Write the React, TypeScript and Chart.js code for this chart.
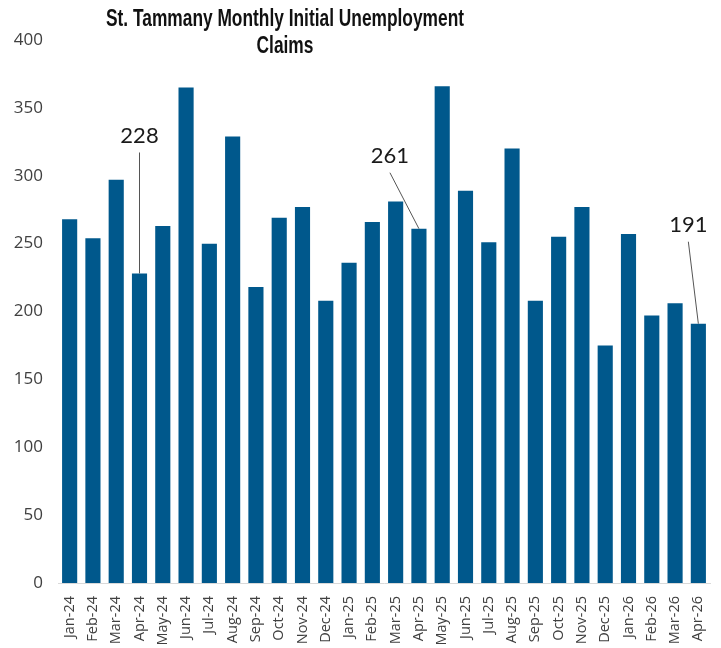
import React, { useEffect, useRef } from "react";
import { Chart, registerables } from "chart.js";

Chart.register(...registerables);

const months: string[] = [
  "Jan-24", "Feb-24", "Mar-24", "Apr-24", "May-24", "Jun-24", "Jul-24", "Aug-24",
  "Sep-24", "Oct-24", "Nov-24", "Dec-24", "Jan-25", "Feb-25", "Mar-25", "Apr-25",
  "May-25", "Jun-25", "Jul-25", "Aug-25", "Sep-25", "Oct-25", "Nov-25", "Dec-25",
  "Jan-26", "Feb-26", "Mar-26", "Apr-26",
];

const claims: number[] = [
  268, 254, 297, 228, 263, 365, 250, 329,
  218, 269, 277, 208, 236, 266, 281, 261,
  366, 289, 251, 320, 208, 255, 277, 175,
  257, 197, 206, 191,
];

const yTicks: number[] = [0, 50, 100, 150, 200, 250, 300, 350, 400];

const titleLines: string[] = ["St. Tammany Monthly Initial Unemployment", "Claims"];

// Callouts: month index, label offset (px) from bar top
const calloutIndex: number[] = [3, 15, 27];
const calloutDx: number[] = [0, -29, -10];
const calloutDy: number[] = [-138, -73, -99];

const BAR_COLOR = "#00588c";

const titlePlugin = {
  id: "customTitle",
  afterDraw(chart: any) {
    const ctx = chart.ctx;
    ctx.save();
    ctx.fillStyle = "#111111";
    ctx.font = "bold 23px 'Liberation Sans Narrow', 'Arial Narrow', 'Liberation Sans', sans-serif";
    ctx.textAlign = "center";
    ctx.textBaseline = "middle";
    const w0 = ctx.measureText(titleLines[0]).width;
    const sx = Math.min(1, 358 / w0);
    ctx.translate(285, 0);
    ctx.scale(sx, 1);
    ctx.fillText(titleLines[0], 0, 20);
    ctx.fillText(titleLines[1], 0, 47);
    ctx.restore();
  },
};

const calloutPlugin = {
  id: "callouts",
  afterDatasetsDraw(chart: any) {
    const ctx = chart.ctx;
    const xs = chart.scales.x;
    const ys = chart.scales.y;
    ctx.save();
    calloutIndex.forEach((idx, k) => {
      const v = claims[idx];
      const bx = xs.getPixelForValue(idx);
      const by = ys.getPixelForValue(v);
      const lx = bx + calloutDx[k];
      const ly = by + calloutDy[k];
      ctx.strokeStyle = "#555555";
      ctx.lineWidth = 1;
      ctx.beginPath();
      ctx.moveTo(lx, ly + 17);
      ctx.lineTo(bx, by);
      ctx.stroke();
      ctx.fillStyle = "#1a1a1a";
      ctx.font = "22px Lato, 'Open Sans', sans-serif";
      ctx.textAlign = "center";
      ctx.textBaseline = "middle";
      ctx.fillText(String(v), lx, ly);
    });
    ctx.restore();
  },
};

export default function App() {
  const canvasRef = useRef<HTMLCanvasElement | null>(null);

  useEffect(() => {
    if (!canvasRef.current) return;
    const chart = new Chart(canvasRef.current, {
      type: "bar",
      data: {
        labels: months,
        datasets: [
          {
            data: claims,
            backgroundColor: BAR_COLOR,
            borderWidth: 0,
            barPercentage: 0.65,
            categoryPercentage: 1,
          },
        ],
      },
      options: {
        animation: false,
        responsive: true,
        maintainAspectRatio: false,
        layout: { padding: { top: 40, right: 11, left: 12, bottom: 2 } },
        plugins: {
          legend: { display: false },
          title: { display: false },
          tooltip: { enabled: false },
        },
        scales: {
          x: {
            grid: { display: false },
            border: { display: true, color: "#d9d9d9", width: 1 },
            afterFit: (scale: any) => {
              scale.height = 63;
            },
            ticks: {
              autoSkip: false,
              maxRotation: 90,
              minRotation: 90,
              color: "#404040",
              font: { family: "'Open Sans', sans-serif", size: 14.5 },
              padding: 5,
            },
          },
          y: {
            min: 0,
            max: 400,
            afterBuildTicks: (scale: any) => {
              scale.ticks = yTicks.map((v) => ({ value: v }));
            },
            afterFit: (scale: any) => {
              scale.width = 46;
            },
            grid: { display: false, drawTicks: false },
            border: { display: false },
            ticks: {
              color: "#404040",
              font: { family: "'Open Sans', sans-serif", size: 17 },
              padding: 15,
            },
          },
        },
      },
      plugins: [titlePlugin, calloutPlugin],
    });
    return () => chart.destroy();
  }, []);

  return (
    <div style={{ position: "absolute", left: 0, top: 0, width: 721, height: 648, background: "#ffffff" }}>
      <canvas ref={canvasRef} />
    </div>
  );
}
